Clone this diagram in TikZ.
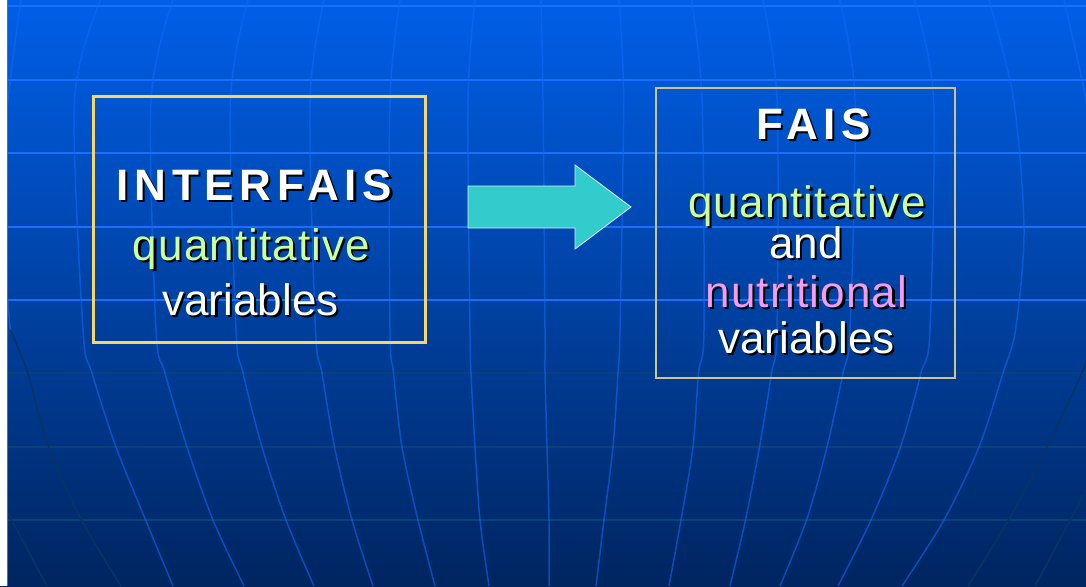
\documentclass[tikz,border=0pt]{standalone}
\usepackage{fontspec}
\setmainfont{Liberation Sans}
\definecolor{bgtop}{RGB}{0,95,232}
\definecolor{bgmid}{RGB}{0,68,172}
\definecolor{bgbot}{RGB}{0,37,96}
\definecolor{gridlight}{RGB}{28,110,255}
\definecolor{griddark}{RGB}{12,64,122}
\definecolor{merid}{RGB}{17,106,248}
\definecolor{meridd}{RGB}{8,52,100}
\definecolor{boxyellow}{RGB}{246,214,110}
\definecolor{boxkhaki}{RGB}{205,195,140}
\definecolor{qgreen}{RGB}{204,255,153}
\definecolor{npink}{RGB}{245,155,240}
\definecolor{arrowcyan}{RGB}{51,204,204}
\newcommand{\shd}[2]{\leavevmode\rlap{\raisebox{-2.2pt}{\kern2.2pt\color{black}#2}}{\color{#1}#2}}
\tikzset{
  meridian/.style={draw=merid, draw opacity=0.58, line width=1.5pt},
  meriddk/.style={draw=meridd, line width=1.5pt},
  hlight/.style={draw=gridlight, line width=1.6pt},
  hdark/.style={draw=griddark, line width=1.3pt},
  txt/.style={anchor=base, inner sep=0pt, font=\fontsize{44}{50}\selectfont},
  ttl/.style={txt, font=\fontsize{44}{50}\selectfont\bfseries\addfontfeatures{LetterSpace=13}},
  spc/.style={txt, font=\fontsize{44}{50}\selectfont\addfontfeatures{LetterSpace=2.5}},
}
\begin{document}
\begin{tikzpicture}[x=1pt,y=-1pt]
\useasboundingbox (0,0) rectangle (1086,586);
% background
\shade[top color=bgtop, middle color=bgmid, bottom color=bgbot] (0,0) rectangle (1086,586);
\begin{scope}
\clip (8,0) rectangle (1086,586);
% horizontal grid lines
\foreach \yy in {6,80,153,227,300} \draw[hlight] (8,\yy) -- (1086,\yy);
\foreach \yy in {373,447,520} \draw[hdark] (8,\yy) -- (1086,\yy);
% meridians
\draw[meridian] plot[smooth] coordinates {(541,0) (543,100) (545,330) (545,373) (547,447) (549,520) (549,586)};
\draw[meridian] plot[smooth] coordinates {(475,0) (468,100) (470,330) (471,373) (475,447) (480,520) (489,586)};
\draw[meridian] plot[smooth] coordinates {(400,0) (390,100) (390,330) (393.5,373) (402,447) (418,520) (435,586)};
\draw[meridian] plot[smooth] coordinates {(324,0) (310,100) (315.5,330) (322,373) (334.5,447) (352,520) (373,586)};
\draw[meridian] plot[smooth] coordinates {(248,0) (230.5,100) (236,330) (243,373) (262,447) (286,520) (314,586)};
\draw[meridian] plot[smooth] coordinates {(173,0) (151,100) (156,330) (165,373) (187,447) (213,520) (244,586)};
\draw[meridian] plot[smooth] coordinates {(100.5,0) (74.5,100) (83,330) (92,373) (116,447) (145.6,520) (173,586)};
\draw[meridian] plot[smooth] coordinates {(20.8,0) (6,120) (3,230) (10.4,330)};
\draw[meriddk] plot[smooth] coordinates {(10.4,330) (27.7,373) (48.5,447) (81.5,520) (121,586)};
\draw[meriddk] plot[smooth] coordinates {(2,500) (10,517) (47,586)};
\draw[meridian] plot[smooth] coordinates {(619,0) (623.6,100) (620,330) (618,373) (613,447) (604,520) (596,586)};
\draw[meridian] plot[smooth] coordinates {(691.5,0) (702,100) (704,330) (698.5,373) (693,447) (681,520) (669,586)};
\draw[meridian] plot[smooth] coordinates {(763,0) (777,100) (777,330) (771.6,373) (759.5,447) (745.5,520) (730,586)};
\draw[meridian] plot[smooth] coordinates {(839.6,0) (855,100) (850,330) (843,373) (827,447) (806.5,520) (780,586)};
\draw[meridian] plot[smooth] coordinates {(914.5,0) (933.6,100) (930,330) (921,373) (900.5,447) (871,520) (838,586)};
\draw[meridian] plot[smooth] coordinates {(989,0) (1013.7,100) (1024,230) (1015.5,330) (1003,373) (979,447) (944,520) (902,586)};
\draw[meridian] plot[smooth] coordinates {(1064,0) (1086,100) (1100,200)};
\draw[meriddk] plot[smooth] coordinates {(1102,310) (1086,363) (1047,447) (1008.5,520) (968,586)};
\draw[meriddk] plot[smooth] coordinates {(1102,455) (1086,490) (1035,586)};
\end{scope}
% left white strip
\fill[white] (0,0) rectangle (7,586);
\draw[draw={rgb,255:red,105;green,105;blue,105}, line width=1.2pt] (7.6,0) -- (7.6,586);
% boxes
\node[draw=boxyellow, line width=3pt, minimum width=332pt, minimum height=246pt, inner sep=0pt] (interbox) at (259.5,219.5) {};
\node[draw=boxkhaki, line width=1.2pt, minimum width=299pt, minimum height=290pt, inner sep=0pt] (faisbox) at (805.5,233) {};
% arrow
\draw[fill=arrowcyan, draw={rgb,255:red,225;green,235;blue,240}, line width=0.8pt, line join=miter]
  (468,186) -- (575,186) -- (575,165) -- (631,207) -- (575,249) -- (575,228) -- (468,228) -- cycle;
% texts left
\node[ttl] (t1) at (254.5,200) {\shd{white}{INTERFAIS}};
\node[spc] (t2) at (251.5,260) {\shd{qgreen}{quantitative}};
\node[txt] (t3) at (250.5,315) {\shd{white}{variables}};
% texts right
\node[ttl] (t4) at (813.5,139) {\shd{white}{FAIS}};
\node[spc] (t5) at (807,217) {\shd{qgreen}{quantitative}};
\node[txt] (t6) at (806,258) {\shd{white}{and}};
\node[spc] (t7) at (806.5,307) {\shd{npink}{nutritional}};
\node[txt] (t8) at (806.5,353) {\shd{white}{variables}};
\end{tikzpicture}
\end{document}
